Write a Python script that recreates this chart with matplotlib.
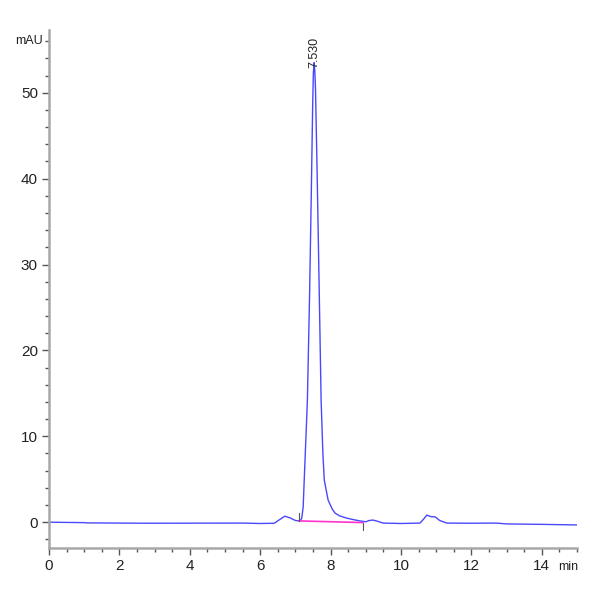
import matplotlib
matplotlib.use("Agg")
import matplotlib.pyplot as plt
from matplotlib.ticker import MultipleLocator

# chromatogram trace (min, mAU)
time_min = [0.0, 1.0, 1.1, 2.8, 5.5, 6.0, 6.4, 6.55, 6.7, 6.85, 7.0, 7.1,
            7.15, 7.18, 7.22, 7.25, 7.30, 7.34, 7.40, 7.45, 7.49, 7.51, 7.53,
            7.55, 7.57, 7.62, 7.68, 7.73, 7.78, 7.82, 7.93, 8.05, 8.13, 8.25,
            8.46, 8.65, 8.83, 9.0, 9.1, 9.2, 9.3, 9.49, 10.0, 10.54, 10.65,
            10.73, 10.85, 10.97, 11.1, 11.3, 12.0, 12.7, 13.0, 14.0, 15.0]
signal_mau = [0.0, -0.05, -0.08, -0.12, -0.1, -0.15, -0.12, 0.3, 0.7, 0.5, 0.2, 0.15,
              0.25, 0.5, 1.75, 4.9, 10.0, 14.2, 26.0, 38.0, 48.5, 52.3, 53.5,
              52.6, 50.5, 40.0, 26.0, 14.2, 8.0, 4.9, 2.56, 1.5, 1.05, 0.75,
              0.47, 0.3, 0.15, 0.05, 0.2, 0.25, 0.15, -0.1, -0.15, -0.1, 0.4,
              0.82, 0.65, 0.62, 0.2, -0.1, -0.12, -0.1, -0.2, -0.25, -0.32]

# integration baseline of the main peak
base_t = [7.11, 8.91]
base_y = [0.15, -0.04]

peak_rt = 7.530
peak_height = 53.5

plt.rcParams['font.family'] = ['Liberation Sans Narrow', 'Liberation Sans', 'DejaVu Sans']

fig = plt.figure(figsize=(6, 6), dpi=100)
ax = fig.add_axes([0.0817, 0.0867, 0.88, 0.8633])

ax.plot(time_min, signal_mau, color="#4848ff", linewidth=1.0)
ax.plot(base_t, base_y, color="#ff33cc", linewidth=1.2)
# start / end marks of the integration
ax.plot([base_t[0], base_t[0]], [base_y[0], base_y[0] + 0.9], color="#555555", linewidth=0.8)
ax.plot([base_t[1], base_t[1]], [base_y[1], base_y[1] - 0.9], color="#555555", linewidth=0.8)

ax.text(peak_rt, peak_height - 0.6, f"{peak_rt:.3f}", rotation=90, ha="center", va="bottom",
        fontsize=9, color="#222222")

ax.set_xlim(0, 15.0)
ax.set_ylim(-3.0, 57.3)
ax.xaxis.set_major_locator(MultipleLocator(2))
ax.xaxis.set_minor_locator(MultipleLocator(0.5))
ax.yaxis.set_major_locator(MultipleLocator(10))
ax.yaxis.set_minor_locator(MultipleLocator(2))

for s in ["top", "right"]:
    ax.spines[s].set_visible(False)
for s in ["left", "bottom"]:
    ax.spines[s].set_color("#a8a8a8")
    ax.spines[s].set_linewidth(1.8)

ax.tick_params(which="major", length=5, width=1, color="#555555", labelsize=11,
               labelcolor="#222222", pad=3)
ax.tick_params(which="minor", length=3, width=1, color="#555555")

ax.text(-0.012, 56, "mAU", transform=ax.get_yaxis_transform(), ha="right", va="center",
        fontsize=9, color="#222222")
ax.text(14.75, -4.5, "min", ha="center", va="top", fontsize=9, color="#222222")

fig.savefig("out.png", dpi=100)
